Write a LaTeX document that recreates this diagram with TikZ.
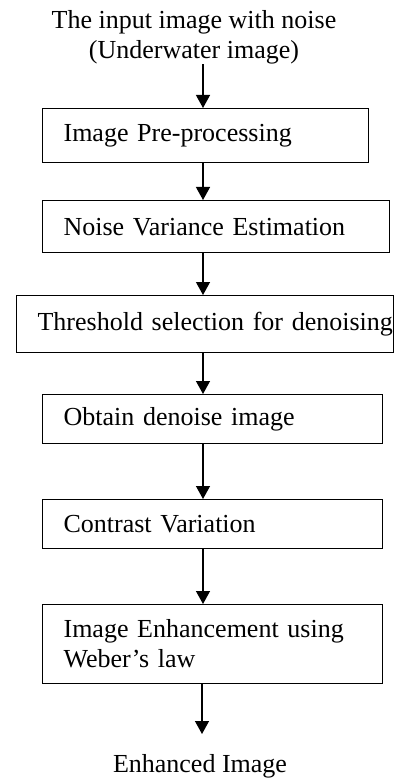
\documentclass[tikz,border=0pt]{standalone}
\usepackage{fontspec}
\setmainfont{Liberation Serif}
\usetikzlibrary{arrows.meta}
\hbadness=10000 \hfuzz=100pt
\begin{document}
\begin{tikzpicture}[x=1pt,y=-1pt,
  every node/.style={font=\fontsize{26}{30}\selectfont, inner sep=0pt},
  stepbox/.style={draw, line width=1.2pt, anchor=north west, inner xsep=21pt, align=left},
  arr/.style={line width=1.3pt, -{Triangle[length=13pt,width=14pt]}}]
\useasboundingbox (0,0) rectangle (394,783);
\node[align=center] (in) at (194,37) {The input image with noise\\(Underwater image)};
\node[stepbox, minimum width=326pt, minimum height=54pt, text width=284pt] (b1) at (42,108) {Image Pre-processing};
\node[stepbox, minimum width=347pt, minimum height=52pt, text width=305pt] (b2) at (42,200) {Noise Variance Estimation};
\node[stepbox, minimum width=377pt, minimum height=57pt, text width=335pt] (b3) at (16,295) {\mbox{Threshold selection for denoising}};
\node[stepbox, minimum width=340pt, minimum height=49pt, text width=298pt] (b4) at (42,394) {Obtain denoise image};
\node[stepbox, minimum width=340pt, minimum height=49pt, text width=298pt] (b5) at (42,499) {Contrast Variation};
\node[stepbox, minimum width=340pt, minimum height=79pt, text width=298pt] (b6) at (42,604) {Image Enhancement using\\Weber’s law};
\node (out) at (200,766) {Enhanced Image};
\coordinate (ax) at (203,0);
\coordinate (end) at (202,734);
\draw[arr] (in.south -| ax) -- (b1.north -| ax);
\draw[arr] (b1.south -| ax) -- (b2.north -| ax);
\draw[arr] (b2.south -| ax) -- (b3.north -| ax);
\draw[arr] (b3.south -| ax) -- (b4.north -| ax);
\draw[arr] (b4.south -| ax) -- (b5.north -| ax);
\draw[arr] (b5.south -| ax) -- (b6.north -| ax);
\draw[arr] (b6.south -| end) -- (end);
\end{tikzpicture}
\end{document}
